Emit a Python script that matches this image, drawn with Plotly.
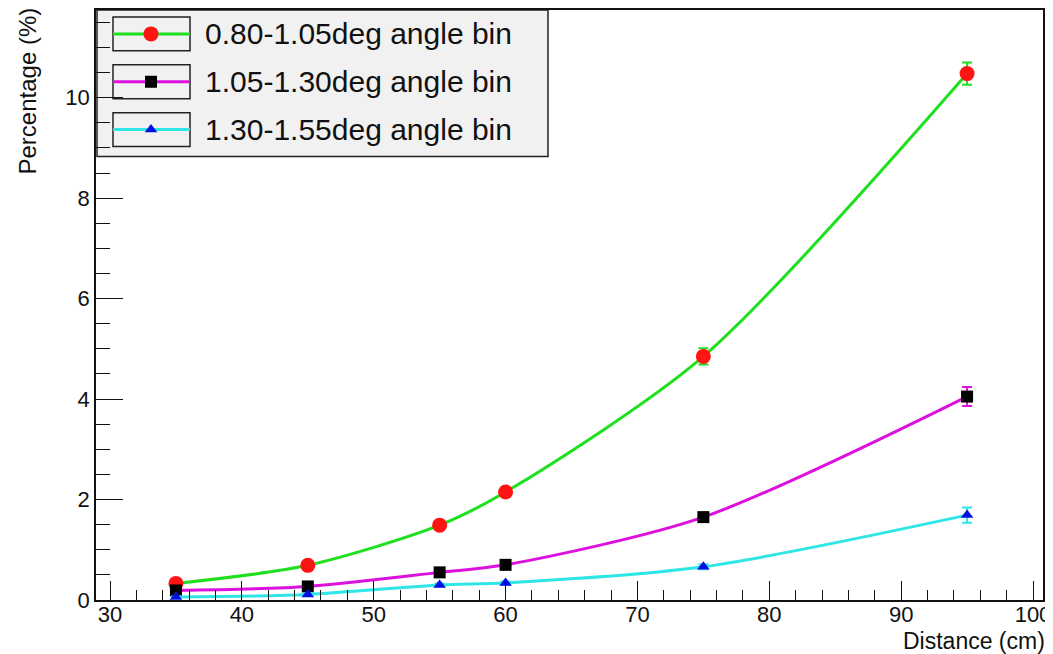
import plotly.graph_objects as go

# ---------------- data ----------------
distance = [35, 45, 55, 60, 75, 95]

bin1_name = "0.80-1.05deg angle bin"
bin1_val = [0.33, 0.69, 1.49, 2.15, 4.85, 10.48]
bin1_err = [0.03, 0.04, 0.06, 0.08, 0.16, 0.22]

bin2_name = "1.05-1.30deg angle bin"
bin2_val = [0.19, 0.27, 0.55, 0.70, 1.65, 4.05]
bin2_err = [0.02, 0.03, 0.04, 0.05, 0.07, 0.19]

bin3_name = "1.30-1.55deg angle bin"
bin3_val = [0.06, 0.11, 0.30, 0.34, 0.66, 1.69]
bin3_err = [0.01, 0.02, 0.03, 0.03, 0.05, 0.15]

x_ticks = [30, 40, 50, 60, 70, 80, 90, 100]
y_ticks = [0, 2, 4, 6, 8, 10]

# ---------------- styling ----------------
OFF = 8  # default page margin of the html body
W, H = 1053 - OFF, 654 - OFF
# plot frame, in page pixels
L, R, T, B = 96, 1043, 8, 600
FONT = "Liberation Sans, Arial, Helvetica, sans-serif"

series = [
    (bin1_name, bin1_val, bin1_err, "#1fe01f", "#ff1414", "circle", 15),
    (bin2_name, bin2_val, bin2_err, "#dd11dd", "#000000", "square", 12),
    (bin3_name, bin3_val, bin3_err, "#2ee6e6", "#0010e0", "triangle-up", 11),
]


def px_x(px):
    return (px - L) / (R - L)


def px_y(py):
    return (B - py) / (B - T)


fig = go.Figure()

for name, vals, errs, lcol, mcol, sym, size in series:
    fig.add_trace(go.Scatter(
        x=distance, y=vals, name=name,
        mode="lines+markers",
        line=dict(color=lcol, width=3, shape="spline", smoothing=0.8),
        marker=dict(color=mcol, symbol=sym, size=size, line=dict(width=0)),
        error_y=dict(type="data", array=errs, visible=True,
                     color=lcol, thickness=2, width=5),
        showlegend=False,
    ))

# ---------------- hand-made ROOT-style legend ----------------
leg_x0, leg_x1, leg_y0, leg_y1 = 97, 548, 8, 155
shapes = [dict(type="rect", xref="paper", yref="paper",
               x0=px_x(leg_x0), x1=px_x(leg_x1), y0=px_y(leg_y1), y1=px_y(leg_y0),
               fillcolor="#f1f1f1", line=dict(color="#222222", width=1.5),
               layer="below")]
annotations = []
entry_y = [32, 80, 128]
for (name, vals, errs, lcol, mcol, sym, size), ey in zip(series, entry_y):
    shapes.append(dict(type="rect", xref="paper", yref="paper",
                       x0=px_x(113), x1=px_x(190), y0=px_y(ey + 17), y1=px_y(ey - 17),
                       fillcolor="rgba(0,0,0,0)", line=dict(color="#222222", width=1.5),
                       layer="below"))
    shapes.append(dict(type="line", xref="paper", yref="paper",
                       x0=px_x(113), x1=px_x(190), y0=px_y(ey), y1=px_y(ey),
                       line=dict(color=lcol, width=3), layer="below"))
    annotations.append(dict(text=name, xref="paper", yref="paper",
                            x=px_x(203), y=px_y(ey), xanchor="left", yanchor="middle",
                            showarrow=False, font=dict(family=FONT, size=30, color="#111111")))
    fig.add_trace(go.Scatter(
        x=[px_x(151)], y=[px_y(ey)], xaxis="x2", yaxis="y2", mode="markers",
        marker=dict(color=mcol, symbol=sym, size=size, line=dict(width=0)),
        showlegend=False, hoverinfo="skip"))

# axis titles
annotations.append(dict(text="Percentage (%)", xref="paper", yref="paper",
                        x=px_x(28), y=px_y(4), xanchor="center", yanchor="top",
                        textangle=-90, showarrow=False,
                        font=dict(family=FONT, size=24, color="#111111")))
annotations.append(dict(text="Distance (cm)", xref="paper", yref="paper",
                        x=px_x(1047), y=px_y(641), xanchor="right", yanchor="middle",
                        showarrow=False, font=dict(family=FONT, size=23, color="#111111")))

x_scale = (1033 - 110) / 70.0
x_min = 30 - (110 - L) / x_scale
x_max = 100 + (R - 1033) / x_scale
y_max = (B - T) / ((600 - 96) / 10.0)

fig.update_layout(
    width=W, height=H,
    margin=dict(l=L - OFF, r=W - (R - OFF), t=T - OFF, b=H - (B - OFF), pad=0),
    paper_bgcolor="white", plot_bgcolor="white",
    font=dict(family=FONT, size=22, color="#111111"),
    shapes=shapes, annotations=annotations,
    xaxis=dict(range=[x_min, x_max], tickvals=x_ticks, ticks="inside",
               ticklen=19, tickwidth=1.2, tickcolor="#111111",
               minor=dict(dtick=2, tick0=30, ticks="inside", ticklen=10,
                          tickwidth=1.2, tickcolor="#111111", showgrid=False),
               showline=True, linecolor="#111111", linewidth=1.5, mirror=True,
               showgrid=False, zeroline=False, tickfont=dict(size=22),
               ticklabelstandoff=-6, ticklabeloverflow="allow"),
    yaxis=dict(range=[0, y_max], tickvals=y_ticks, ticks="inside",
               ticklen=27, tickwidth=1.2, tickcolor="#111111",
               minor=dict(dtick=0.5, tick0=0, ticks="inside", ticklen=14,
                          tickwidth=1.2, tickcolor="#111111", showgrid=False),
               showline=True, linecolor="#111111", linewidth=1.5, mirror=True,
               showgrid=False, zeroline=False, tickfont=dict(size=22),
               ticklabeloverflow="allow"),
    xaxis2=dict(range=[0, 1], overlaying="x", visible=False, fixedrange=True),
    yaxis2=dict(range=[0, 1], overlaying="y", visible=False, fixedrange=True),
)

fig.write_html("out.html")
